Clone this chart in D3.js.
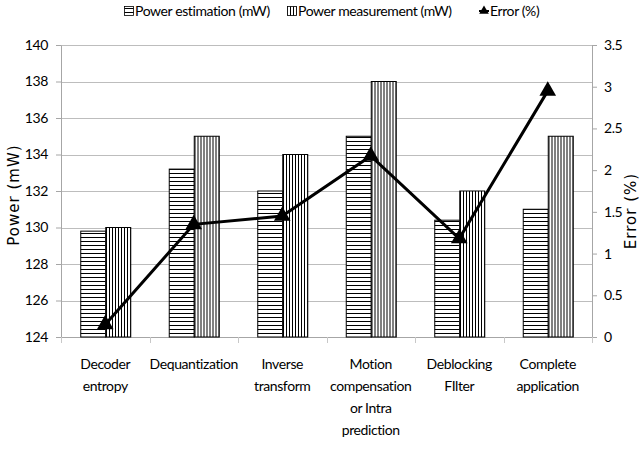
<!DOCTYPE html>
<html>
<head>
<meta charset="utf-8">
<script src="https://cdn.jsdelivr.net/npm/d3@7"></script>
<style>
  body { margin: 0; background: #fff; }
  svg text { fill: #000; }
</style>
</head>
<body>
<div id="chart"></div>
<script>
// data
const categories = [
  ['Decoder', 'entropy'],
  ['Dequantization'],
  ['Inverse', 'transform'],
  ['Motion', 'compensation', 'or Intra', 'prediction'],
  ['Deblocking', 'FIlter'],
  ['Complete', 'application']
];
const powerEstimation  = [129.8, 133.2, 132.0, 135.0, 130.4, 131.0];
const powerMeasurement = [130, 135, 134, 138, 132, 135];
const errorPct         = [0.15, 1.35, 1.45, 2.17, 1.18, 2.95];
const leftTicks  = [124, 126, 128, 130, 132, 134, 136, 138, 140];
const rightTicks = [0, 0.5, 1, 1.5, 2, 2.5, 3, 3.5];

const W = 643, H = 463;
const margin = {top: 45, right: 51, bottom: 126, left: 61};
const innerW = W - margin.left - margin.right;
const innerH = H - margin.top - margin.bottom;
const labelFont = 'Lato, "Liberation Sans", sans-serif';
const labelSpacing = -0.4;

const svg = d3.select('#chart').append('svg')
    .attr('width', W)
    .attr('height', H);

const defs = svg.append('defs');
// horizontal hatching for the estimation bars
const hp = defs.append('pattern')
    .attr('id', 'hstripe')
    .attr('patternUnits', 'userSpaceOnUse')
    .attr('width', 4).attr('height', 4);
hp.append('rect').attr('width', 4).attr('height', 4).attr('fill', '#fff');
hp.append('line').attr('x1', 0).attr('x2', 4).attr('y1', 0.5).attr('y2', 0.5)
    .attr('stroke', '#000').attr('stroke-width', 1);
// vertical hatching for the measurement bars
const vp = defs.append('pattern')
    .attr('id', 'vstripe')
    .attr('patternUnits', 'userSpaceOnUse')
    .attr('width', 3).attr('height', 3);
vp.append('rect').attr('width', 3).attr('height', 3).attr('fill', '#fff');
vp.append('line').attr('x1', 0.5).attr('x2', 0.5).attr('y1', 0).attr('y2', 3)
    .attr('stroke', '#000').attr('stroke-width', 1);

const g = svg.append('g').attr('transform', `translate(${margin.left},${margin.top})`);

const x = d3.scaleBand().domain(d3.range(categories.length)).range([0, innerW]).padding(0);
const sub = d3.scaleBand().domain(['est', 'meas']).range([0, x.bandwidth()]).paddingOuter(0.77).paddingInner(0);
const y = d3.scaleLinear().domain([124, 140]).range([innerH, 0]);
const y2 = d3.scaleLinear().domain([0, 3.5]).range([innerH, 0]);

// gridlines
g.append('g').selectAll('line').data(leftTicks.slice(1)).join('line')
    .attr('x1', 0).attr('x2', innerW)
    .attr('y1', d => Math.round(y(d)) + 0.5).attr('y2', d => Math.round(y(d)) + 0.5)
    .attr('stroke', '#bdbdbd').attr('stroke-width', 1.2);

// left axis
const yAxis = g.append('g')
    .call(d3.axisLeft(y).tickValues(leftTicks).tickSize(5).tickPadding(8).tickSizeOuter(0));
// right axis
const y2Axis = g.append('g').attr('transform', `translate(${innerW},0)`)
    .call(d3.axisRight(y2).tickValues(rightTicks).tickFormat(d => d).tickSize(5).tickPadding(7).tickSizeOuter(0));
// bottom axis with boundary ticks
const xAxis = g.append('g').attr('transform', `translate(0,${innerH})`);
xAxis.append('line').attr('x1', 0).attr('x2', innerW).attr('y1', 0.5).attr('y2', 0.5)
    .attr('stroke', '#a6a6a6');
xAxis.selectAll('.bt').data(d3.range(categories.length + 1)).join('line')
    .attr('class', 'bt')
    .attr('x1', d => Math.round(d * x.step()) + 0.5).attr('x2', d => Math.round(d * x.step()) + 0.5)
    .attr('y1', 0).attr('y2', 6)
    .attr('stroke', '#c8c8c8');

[yAxis, y2Axis].forEach(a => {
  a.selectAll('.domain, .tick line').attr('stroke', '#a6a6a6');
  a.selectAll('text').attr('font-family', labelFont).attr('font-size', 14)
      .attr('letter-spacing', labelSpacing).attr('fill', '#000');
});

// category labels
const catLabels = xAxis.selectAll('.cat').data(categories).join('text')
    .attr('class', 'cat')
    .attr('x', (d, i) => x(i) + x.bandwidth() / 2)
    .attr('y', 32)
    .attr('text-anchor', 'middle')
    .attr('font-family', labelFont)
    .attr('font-size', 14)
    .attr('letter-spacing', labelSpacing);
catLabels.selectAll('tspan').data(d => d).join('tspan')
    .attr('x', function() { return d3.select(this.parentNode).attr('x'); })
    .attr('dy', (d, i) => i === 0 ? 0 : 22)
    .text(d => d);

// bars
const groups = g.append('g').selectAll('g').data(categories).join('g')
    .attr('transform', (d, i) => `translate(${x(i)},0)`);
groups.append('rect')
    .attr('x', sub('est') + 0.5)
    .attr('width', sub.bandwidth())
    .attr('y', (d, i) => y(powerEstimation[i]))
    .attr('height', (d, i) => innerH - y(powerEstimation[i]))
    .attr('fill', 'url(#hstripe)').attr('stroke', '#000').attr('stroke-width', 1);
groups.append('rect')
    .attr('x', sub('meas') + 0.5)
    .attr('width', sub.bandwidth())
    .attr('y', (d, i) => y(powerMeasurement[i]))
    .attr('height', (d, i) => innerH - y(powerMeasurement[i]))
    .attr('fill', 'url(#vstripe)').attr('stroke', '#000').attr('stroke-width', 1);

// error line
const cx = i => x(i) + x.bandwidth() / 2;
g.append('path')
    .datum(errorPct)
    .attr('d', d3.line().x((d, i) => cx(i)).y(d => y2(d)))
    .attr('fill', 'none').attr('stroke', '#000').attr('stroke-width', 3);
g.append('g').selectAll('path').data(errorPct).join('path')
    .attr('transform', (d, i) => `translate(${cx(i)},${y2(d)})`)
    .attr('d', d3.symbol(d3.symbolTriangle, 120))
    .attr('fill', '#000');

// axis titles
svg.append('text')
    .attr('transform', `translate(19,${margin.top + innerH / 2 + 4}) rotate(-90)`)
    .attr('text-anchor', 'middle')
    .attr('font-family', '"DejaVu Sans", Verdana, sans-serif')
    .attr('font-size', 15)
    .attr('letter-spacing', 1)
    .text('Power (mW)');
svg.append('text')
    .attr('transform', `translate(636,${margin.top + innerH / 2 + 20}) rotate(-90)`)
    .attr('text-anchor', 'middle')
    .attr('font-family', '"DejaVu Sans", Verdana, sans-serif')
    .attr('font-size', 15)
    .attr('letter-spacing', 1)
    .text('Error (%)');

// legend
const legend = svg.append('g').attr('font-family', labelFont).attr('font-size', 14)
    .attr('letter-spacing', labelSpacing);
const items = [
  {label: 'Power estimation (mW)', fill: 'url(#hstripe)', x: 124},
  {label: 'Power measurement (mW)', fill: 'url(#vstripe)', x: 287},
  {label: 'Error (%)', star: true, x: 479}
];
items.forEach(it => {
  const li = legend.append('g').attr('transform', `translate(${it.x},0)`);
  if (it.star) {
    li.append('line').attr('x1', 0).attr('x2', 10).attr('y1', 11).attr('y2', 11)
        .attr('stroke', '#000').attr('stroke-width', 2);
    li.append('path').attr('transform', 'translate(5,11)')
        .attr('d', d3.symbol(d3.symbolTriangle, 40)).attr('fill', '#000');
  } else {
    li.append('rect').attr('x', 0.5).attr('y', 6.5).attr('width', 9).attr('height', 9)
        .attr('fill', it.fill).attr('stroke', '#000').attr('stroke-width', 0.8);
  }
  li.append('text').attr('x', 11).attr('y', 16).text(it.label);
});
</script>
</body>
</html>
